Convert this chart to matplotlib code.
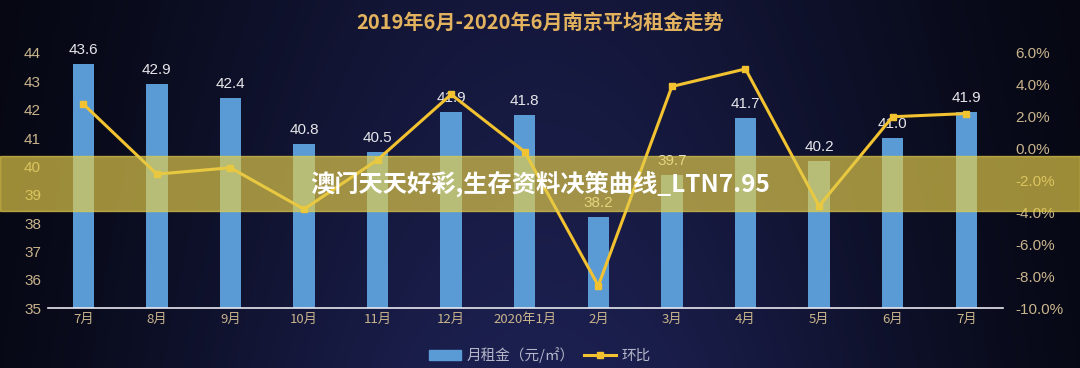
import numpy as np
import matplotlib.pyplot as plt
from matplotlib.patches import Patch, Rectangle
from matplotlib.lines import Line2D

plt.rcParams['font.family'] = ['Noto Sans CJK SC', 'DejaVu Sans']

months = ['7月', '8月', '9月', '10月', '11月', '12月', '2020年1月',
          '2月', '3月', '4月', '5月', '6月', '7月']
rent = [43.6, 42.9, 42.4, 40.8, 40.5, 41.9, 41.8, 38.2, 39.7, 41.7, 40.2, 41.0, 41.9]
mom = [2.8, -1.6, -1.2, -3.8, -0.7, 3.4, -0.2, -8.6, 3.9, 5.0, -3.6, 2.0, 2.2]

title = '2019年6月-2020年6月南京平均租金走势'
banner = '澳门天天好彩,生存资料决策曲线_LTN7.95'

fig = plt.figure(figsize=(10.8, 3.68), dpi=100)

# background gradient: navy in the middle, near black at the sides
bg = fig.add_axes([0, 0, 1, 1], zorder=-10)
gx = np.linspace(0, 1, 400)
gy = np.linspace(0, 1, 150)
X, Y = np.meshgrid(gx, gy)
t = np.exp(-((X - 0.5) / 0.38) ** 2) * (0.7 + 0.3 * Y)
dark = np.array([3, 4, 10]) / 255
navy = np.array([28, 32, 80]) / 255
img = dark + (navy - dark) * t[..., None]
bg.imshow(img, aspect='auto', extent=[0, 1, 0, 1], origin='upper')
bg.axis('off')

num_font = ['Liberation Sans', 'DejaVu Sans']

ax = fig.add_axes([0.0444, 0.163, 0.8843, 0.693])
ax.set_facecolor('none')
x = np.arange(len(months))
ax.bar(x, rent, width=0.29, color='#5b9bd5', zorder=2)
for xi, v in zip(x, rent):
    ax.text(xi, v + 0.25, f'{v:.1f}', ha='center', va='bottom',
            color='#e6e6ea', fontsize=11, family=num_font, clip_on=False)
ax.set_xlim(-0.48, 12.5)
ax.set_ylim(35, 44)
ax.set_yticks(range(35, 45))
ax.set_xticks(x)
ax.set_xticklabels(months)
ax.tick_params(axis='both', length=0, colors='#c9b48c')
ax.tick_params(axis='x', labelsize=9.5)
ax.tick_params(axis='y', pad=5, labelsize=11)
for lb in ax.get_yticklabels():
    lb.set_family(num_font)
for s in ['top', 'left', 'right']:
    ax.spines[s].set_visible(False)
ax.spines['bottom'].set_color('#e8e8f0')
ax.spines['bottom'].set_linewidth(1.2)

ax2 = ax.twinx()
ax2.plot(x, mom, color='#f2c230', lw=2.2, marker='s', markersize=4.5, zorder=3)
ax2.set_ylim(-10, 6)
ax2.set_yticks(range(-10, 7, 2))
ax2.set_yticklabels([f'{v:.1f}%' for v in range(-10, 7, 2)])
ax2.tick_params(axis='y', length=0, colors='#c9b48c', labelsize=11, pad=9)
for lb in ax2.get_yticklabels():
    lb.set_family(num_font)
for s in ['top', 'left', 'right', 'bottom']:
    ax2.spines[s].set_visible(False)

fig.text(0.5, 0.94, title, ha='center', va='center', color='#e2b25e',
         fontsize=14.5, fontweight='bold')

handles = [Patch(color='#5b9bd5'),
           Line2D([0], [0], color='#f2c230', lw=2.2, marker='s', markersize=4.5)]
leg = fig.legend(handles, ['月租金（元/㎡）', '环比'], loc='center',
                 bbox_to_anchor=(0.5, 0.035), ncol=2, frameon=False,
                 fontsize=10.5, handlelength=2.2, columnspacing=0.6, handletextpad=0.4)
for tx in leg.get_texts():
    tx.set_color('#b4b6c8')

# semi-transparent banner across the chart
fig.patches.append(Rectangle((0, 0.4266), 1, 0.1494, transform=fig.transFigure,
                             color='#e4cc4a', alpha=0.68, zorder=20))
fig.text(0.5, 0.50, banner, ha='center', va='center', color='white',
         fontsize=17.5, fontweight='bold', zorder=21)

fig.savefig('out.png', dpi=100)
